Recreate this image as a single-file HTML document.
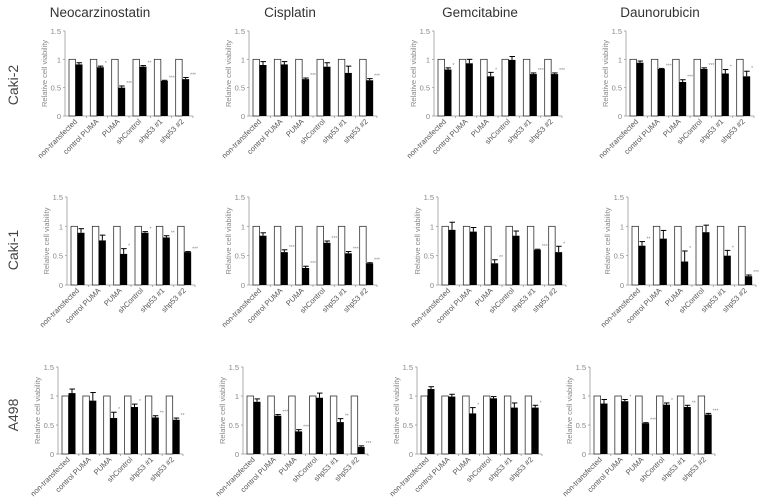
<!DOCTYPE html>
<html><head><meta charset="utf-8"><style>
html,body{margin:0;padding:0;background:#fff;}
svg{display:block;font-family:"Liberation Sans",sans-serif;}
</style></head><body>
<svg id="c" width="759" height="500" viewBox="0 0 759 500"></svg>
<script>
const categories=["non-transfected","control PUMA","PUMA","shControl","shp53 #1","shp53 #2"];
const drugs=["Neocarzinostatin","Cisplatin","Gemcitabine","Daunorubicin"];
const cellLines=["Caki-2","Caki-1","A498"];
const yTicks=[0,0.5,1,1.5];
const yTickLabels=["0","0.5","1","1.5"];
const controlValues=[1,1,1,1,1,1];
const r1c1=[0.91,0.86,0.50,0.87,0.62,0.65];
const r1c1Err=[0.03,0.02,0.03,0.02,0.01,0.03];
const r1c2=[0.90,0.91,0.65,0.87,0.76,0.63];
const r1c2Err=[0.06,0.05,0.02,0.07,0.12,0.03];
const r1c3=[0.82,0.93,0.70,0.99,0.74,0.74];
const r1c3Err=[0.03,0.07,0.07,0.06,0.02,0.02];
const r1c4=[0.94,0.83,0.60,0.83,0.75,0.70];
const r1c4Err=[0.03,0.01,0.04,0.02,0.07,0.09];
const r2c1=[0.89,0.76,0.53,0.89,0.81,0.56];
const r2c1Err=[0.07,0.09,0.09,0.02,0.03,0.01];
const r2c2=[0.84,0.56,0.29,0.72,0.54,0.37];
const r2c2Err=[0.05,0.04,0.03,0.03,0.03,0.01];
const r2c3=[0.94,0.91,0.37,0.84,0.60,0.56];
const r2c3Err=[0.13,0.07,0.06,0.08,0.01,0.10];
const r2c4=[0.67,0.79,0.40,0.90,0.50,0.15];
const r2c4Err=[0.07,0.14,0.18,0.12,0.09,0.02];
const r3c1=[1.05,0.92,0.62,0.81,0.63,0.59];
const r3c1Err=[0.07,0.14,0.10,0.05,0.03,0.03];
const r3c2=[0.90,0.66,0.39,0.97,0.55,0.12];
const r3c2Err=[0.05,0.02,0.03,0.08,0.06,0.02];
const r3c3=[1.12,0.99,0.70,0.96,0.80,0.80];
const r3c3Err=[0.04,0.04,0.10,0.03,0.08,0.04];
const r3c4=[0.87,0.91,0.53,0.85,0.81,0.68];
const r3c4Err=[0.07,0.03,0.01,0.03,0.03,0.02];
const r1c1Stars=["","*","***","**","***","***"];
const r1c2Stars=["","","***","","","***"];
const r1c3Stars=["*","","*","","***","***"];
const r1c4Stars=["","***","***","***","*","*"];
const r2c1Stars=["","","*","*","**","***"];
const r2c2Stars=["","***","***","***","***","***"];
const r2c3Stars=["","","**","","***","*"];
const r2c4Stars=["**","","*","","*","***"];
const r3c1Stars=["","","*","*","**","**"];
const r3c2Stars=["","***","***","","**","***"];
const r3c3Stars=["","","*","","","*"];
const r3c4Stars=["","*","***","*","**","***"];
const series=[[r1c1,r1c2,r1c3,r1c4],[r2c1,r2c2,r2c3,r2c4],[r3c1,r3c2,r3c3,r3c4]];
const errs=[[r1c1Err,r1c2Err,r1c3Err,r1c4Err],[r2c1Err,r2c2Err,r2c3Err,r2c4Err],[r3c1Err,r3c2Err,r3c3Err,r3c4Err]];
const stars=[[r1c1Stars,r1c2Stars,r1c3Stars,r1c4Stars],[r2c1Stars,r2c2Stars,r2c3Stars,r2c4Stars],[r3c1Stars,r3c2Stars,r3c3Stars,r3c4Stars]];

const NS="http://www.w3.org/2000/svg";
const svg=document.getElementById('c');
function mk(tag,attrs,parent,text){const e=document.createElementNS(NS,tag);for(const k in attrs)e.setAttribute(k,attrs[k]);if(text!==undefined)e.textContent=text;(parent||svg).appendChild(e);return e;}
const axX=[[65,249,434,626],[67,249,438,628],[58,243,417,590]];
const rowY0=[116,285,454];
const rowTop=[31,197,367];
const rowW=[128,128,125];
const titleX=[100,290,480,660];
drugs.forEach((d,i)=>{const t=mk('text',{x:titleX[i],y:17,'font-size':13.5,'text-anchor':'middle',fill:'#333'},svg,d);

});
const rowLabelY=[85,250,415];
cellLines.forEach((c,i)=>{const t=mk('text',{x:0,y:0,'font-size':14,'text-anchor':'middle',fill:'#444',transform:`translate(18,${rowLabelY[i]}) rotate(-90)`},svg,c);

});

for(let r=0;r<3;r++)for(let c=0;c<4;c++){
  const g=mk('g',{});
  
  
  const x0=axX[r][c],y0=rowY0[r],yt=rowTop[r],W=rowW[r];
  const ys=v=>y0-(v/1.5)*(y0-yt);
  const gw=W/6;
  const xs=i=>x0+gw*i;
  const ya=mk('line',{x1:x0,y1:yt,x2:x0,y2:y0,stroke:'#999','stroke-width':0.8},g);
  
  const xa=mk('line',{x1:x0,y1:y0,x2:x0+W,y2:y0,stroke:'#999','stroke-width':0.8},g);
  
  yTicks.forEach((v,k)=>{mk('line',{x1:x0-2,y1:ys(v),x2:x0,y2:ys(v),stroke:'#999','stroke-width':0.8},g);
    const t=mk('text',{x:x0-4,y:ys(v)+3,'font-size':7.5,'text-anchor':'end',fill:'#888'},g,yTickLabels[k]);
    });
  for(let i=1;i<=6;i++)mk('line',{x1:xs(i),y1:y0,x2:xs(i),y2:y0+2,stroke:'#999','stroke-width':0.8},g);
  const yt2=mk('text',{x:0,y:0,'font-size':7.5,'text-anchor':'middle',fill:'#888',transform:`translate(${x0-18},${(y0+yt)/2}) rotate(-90)`},g,'Relative cell viability');
  
  const vals=series[r][c],er=errs[r][c],st=stars[r][c];
  categories.forEach((cat,i)=>{
    const bx=xs(i)+4;
    const w=mk('rect',{x:bx,y:ys(controlValues[i]),width:6.5,height:y0-ys(controlValues[i]),fill:'#fff',stroke:'#333','stroke-width':0.8},g);
    
    const bx2=bx+6.5;
    mk('line',{x1:bx2+3.5,y1:ys(vals[i]),x2:bx2+3.5,y2:ys(vals[i]+er[i]),stroke:'#000','stroke-width':1},g);
    mk('line',{x1:bx2+1,y1:ys(vals[i]+er[i]),x2:bx2+6.5,y2:ys(vals[i]+er[i]),stroke:'#000','stroke-width':1},g);
    const b=mk('rect',{x:bx2,y:ys(vals[i]),width:7,height:y0-ys(vals[i]),fill:'#000'},g);
    
    if(st[i]){const s=mk('text',{x:bx2+8,y:ys(vals[i]+er[i])-1,'font-size':5,fill:'#888'},g,st[i]);
      }
    const lx=xs(i)+gw/2+2,ly=y0+6;
    const l=mk('text',{x:0,y:0,'font-size':7.5,'text-anchor':'end',fill:'#555',transform:`translate(${lx},${ly}) rotate(-45)`},g,cat);
    
  });
}
</script>
</body></html>
